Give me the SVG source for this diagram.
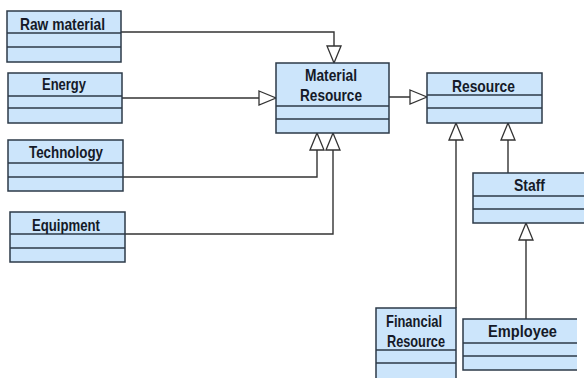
<svg xmlns="http://www.w3.org/2000/svg" width="584" height="378" viewBox="0 0 584 378">
<style>
.box{fill:#cce5fb;stroke:#2c3a48;stroke-width:1.5}
.div{stroke:#2c3a48;stroke-width:1.4;fill:none}
.t{font-family:"Liberation Sans",Arial,sans-serif;font-weight:bold;font-size:16.5px;fill:#151a28}
.c{stroke:#333;stroke-width:1.4;fill:none;marker-end:url(#tri)}
</style>
<defs>
<marker id="tri" markerUnits="userSpaceOnUse" markerWidth="19" markerHeight="16" refX="17" refY="7" orient="auto" viewBox="-1 -1 19 16">
<path d="M0,0 L17,7 L0,14 Z" fill="#fff" stroke="#333" stroke-width="1.3"/>
</marker>
</defs>
<rect width="584" height="378" fill="#fff"/>
<g id="connectors">
<path class="c" d="M121,32 H334 V63"/>
<path class="c" d="M122,98 H276"/>
<path class="c" d="M123,177 H317 V133"/>
<path class="c" d="M125,234 H333 V133"/>
<path class="c" d="M389,97 H427"/>
<path class="c" d="M456,308 V123"/>
<path class="c" d="M508,173 V123"/>
<path class="c" d="M526,319 V223"/>
</g>
<g id="raw-material">
<rect class="box" x="7" y="11" width="114" height="51"/>
<path class="div" d="M7,33 H121 M7,47 H121"/>
<text class="t" x="20" y="30" textLength="85" lengthAdjust="spacingAndGlyphs">Raw material</text>
</g>
<g id="energy">
<rect class="box" x="8" y="73" width="114" height="50"/>
<path class="div" d="M8,96 H122 M8,108 H122"/>
<text class="t" x="42" y="90" textLength="44" lengthAdjust="spacingAndGlyphs">Energy</text>
</g>
<g id="technology">
<rect class="box" x="8" y="140" width="115" height="51"/>
<path class="div" d="M8,163 H123 M8,177 H123"/>
<text class="t" x="29" y="158" textLength="74" lengthAdjust="spacingAndGlyphs">Technology</text>
</g>
<g id="equipment">
<rect class="box" x="10" y="212" width="115" height="50"/>
<path class="div" d="M10,234 H125 M10,248 H125"/>
<text class="t" x="32" y="231" textLength="68" lengthAdjust="spacingAndGlyphs">Equipment</text>
</g>
<g id="material-resource">
<rect class="box" x="276" y="63" width="113" height="70"/>
<path class="div" d="M276,106 H389 M276,119 H389"/>
<text class="t" x="305" y="81" textLength="52" lengthAdjust="spacingAndGlyphs">Material</text>
<text class="t" x="300" y="101" textLength="62" lengthAdjust="spacingAndGlyphs">Resource</text>
</g>
<g id="resource">
<rect class="box" x="427" y="73" width="115" height="50"/>
<path class="div" d="M427,95 H542 M427,108 H542"/>
<text class="t" x="452" y="92" textLength="63" lengthAdjust="spacingAndGlyphs">Resource</text>
</g>
<g id="staff">
<rect class="box" x="473" y="173" width="120" height="50"/>
<path class="div" d="M473,196 H584 M473,209 H584"/>
<text class="t" x="514" y="191" textLength="31" lengthAdjust="spacingAndGlyphs">Staff</text>
</g>
<g id="financial-resource">
<rect class="box" x="376" y="308" width="80" height="80"/>
<path class="div" d="M376,350 H456 M376,363 H456"/>
<text class="t" x="386" y="327" textLength="56" lengthAdjust="spacingAndGlyphs">Financial</text>
<text class="t" x="387" y="347" textLength="58" lengthAdjust="spacingAndGlyphs">Resource</text>
</g>
<g id="employee">
<rect x="463" y="319" width="114" height="51" fill="#cce5fb"/>
<path class="div" d="M577,319 H463 V370 H577" style="stroke-width:1.5"/>
<path class="div" d="M463,343 H577 M463,356 H577"/>
<text class="t" x="488" y="337" textLength="69" lengthAdjust="spacingAndGlyphs">Employee</text>
</g>
</svg>
